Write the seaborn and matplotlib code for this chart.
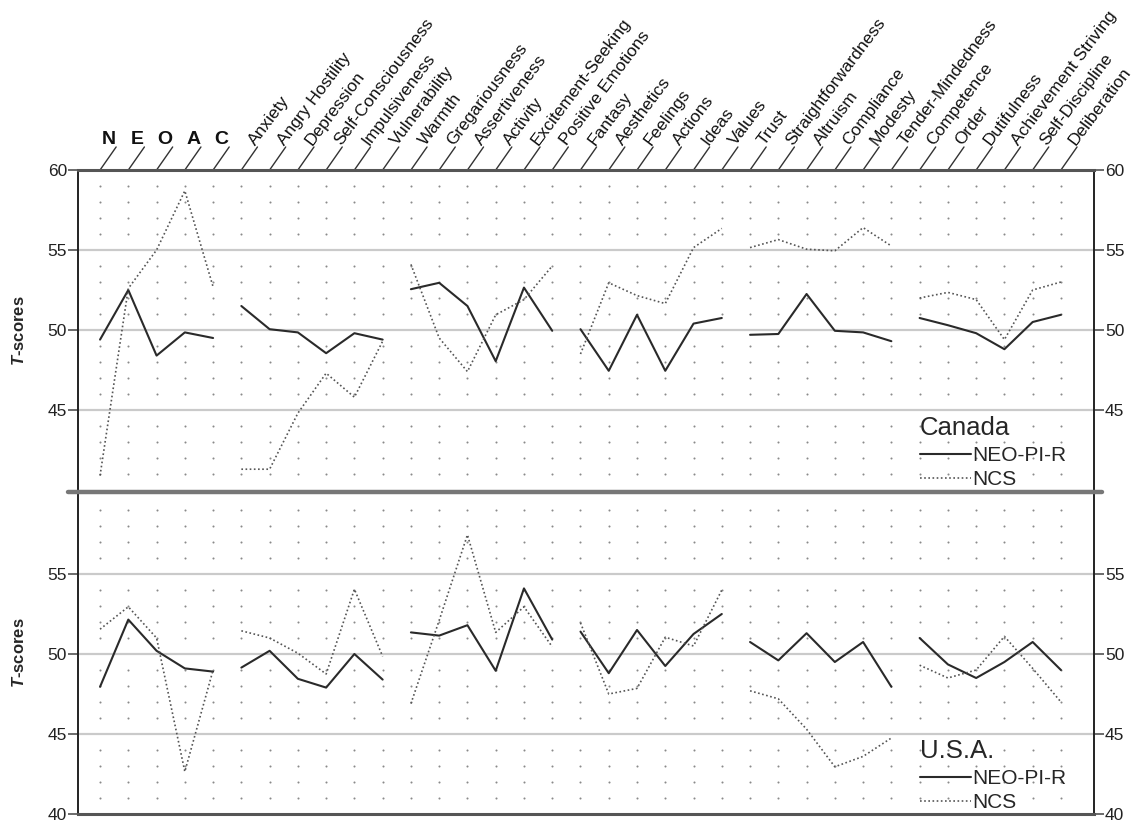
import numpy as np
import pandas as pd
import matplotlib.pyplot as plt
import seaborn as sns
from matplotlib.lines import Line2D

# Labels
domains = ["N", "E", "O", "A", "C"]
facets = [
    "Anxiety", "Angry Hostility", "Depression", "Self-Consciousness", "Impulsiveness", "Vulnerability",
    "Warmth", "Gregariousness", "Assertiveness", "Activity", "Excitement-Seeking", "Positive Emotions",
    "Fantasy", "Aesthetics", "Feelings", "Actions", "Ideas", "Values",
    "Trust", "Straightforwardness", "Altruism", "Compliance", "Modesty", "Tender-Mindedness",
    "Competence", "Order", "Dutifulness", "Achievement Striving", "Self-Discipline", "Deliberation",
]
# which line segment each scale belongs to (domains, then the five facet groups)
blocks = [0] * 5 + [1] * 6 + [2] * 6 + [3] * 6 + [4] * 6 + [5] * 6

# T-scores
canada_neo = [49.4, 52.5, 48.4, 49.85, 49.5,
              51.5, 50.05, 49.85, 48.55, 49.8, 49.4,
              52.55, 52.95, 51.5, 48.05, 52.65, 49.95,
              50.05, 47.45, 50.95, 47.45, 50.4, 50.75,
              49.7, 49.75, 52.25, 49.95, 49.85, 49.3,
              50.75, 50.3, 49.8, 48.8, 50.5, 50.95]
canada_ncs = [40.9, 52.6, 55.0, 58.7, 52.7,
              41.3, 41.3, 44.8, 47.3, 45.8, 49.3,
              54.1, 49.5, 47.4, 50.95, 51.9, 54.0,
              48.5, 52.95, 52.15, 51.65, 55.15, 56.35,
              55.15, 55.65, 55.05, 54.95, 56.4, 55.25,
              52.0, 52.35, 51.9, 49.4, 52.5, 53.0]
usa_neo = [47.95, 52.15, 50.2, 49.1, 48.9,
           49.15, 50.2, 48.45, 47.9, 50.0, 48.4,
           51.35, 51.15, 51.8, 48.95, 54.1, 50.9,
           51.4, 48.8, 51.5, 49.25, 51.25, 52.5,
           50.75, 49.6, 51.3, 49.5, 50.75, 47.95,
           51.0, 49.35, 48.5, 49.5, 50.75, 49.0]
usa_ncs = [51.55, 52.95, 51.0, 42.65, 49.0,
           51.45, 51.0, 50.05, 48.75, 54.05, 49.85,
           46.9, 52.1, 57.45, 51.35, 52.95, 50.45,
           51.95, 47.5, 47.85, 51.05, 50.5, 54.0,
           47.7, 47.2, 45.3, 42.95, 43.6, 44.75,
           49.3, 48.5, 49.0, 51.1, 49.1, 47.0]

scales = domains + facets
pos = np.arange(len(scales))

rows = []
for country, inst, vals in [("Canada", "NEO-PI-R", canada_neo), ("Canada", "NCS", canada_ncs),
                            ("U.S.A.", "NEO-PI-R", usa_neo), ("U.S.A.", "NCS", usa_ncs)]:
    for p, b, v in zip(pos, blocks, vals):
        rows.append({"country": country, "instrument": inst, "pos": p, "block": b, "score": v})
df = pd.DataFrame(rows)

sns.set_style("white")
plt.rcParams["font.family"] = ["Liberation Sans", "DejaVu Sans"]
plt.rcParams["mathtext.fontset"] = "custom"
plt.rcParams["mathtext.bfit"] = "Liberation Sans:italic:bold"
plt.rcParams["mathtext.bf"] = "Liberation Sans:bold"

W, H = 1134, 823
fig = plt.figure(figsize=(W / 100, H / 100), dpi=100)
left, width = 78 / W, 1016 / W
ax_ca = fig.add_axes([left, 1 - 492 / H, width, 322 / H])
ax_us = fig.add_axes([left, 1 - 814 / H, width, 322 / H])

styles = {
    "NEO-PI-R": dict(color="#2a2a2a", linewidth=1.5, linestyle="-"),
    "NCS": dict(color="#555555", linewidth=1.2, linestyle=(0, (1, 1.5))),
}

panels = [(ax_ca, "Canada", (39.875, 60), [45, 50, 55, 60], 0.235),
          (ax_us, "U.S.A.", (40, 60.125), [40, 45, 50, 55], 0.232)]

for ax, country, ylim, yt, leg_y in panels:
    # dotted background grid and grey reference lines
    gy = [v for v in range(41, 60) if v % 5]
    gx, gyy = np.meshgrid(pos, gy)
    ax.scatter(gx.ravel(), gyy.ravel(), s=2.2, color="#8a8a8a", linewidths=0, zorder=1)
    for v in (45, 50, 55):
        ax.axhline(v, color="#cacaca", lw=1.6, zorder=1)

    for inst, st in styles.items():
        sub = df[(df["country"] == country) & (df["instrument"] == inst)]
        sns.lineplot(data=sub, x="pos", y="score", units="block", estimator=None,
                     ax=ax, legend=False, zorder=3, **st)

    ax.set_xlim(-0.78, 35.17)
    ax.set_ylim(*ylim)
    ax.set_xticks([])
    ax.set_yticks(yt)
    ax.tick_params(axis="y", direction="out", length=7, width=1.1, color="#444444",
                   left=True, right=True, labelleft=True, labelright=True,
                   labelsize=12.5, pad=1, labelcolor="#222222")
    ax.set_xlabel("")
    ax.set_ylabel(r"$\mathbfit{T}$-scores", fontsize=12, fontweight="bold")
    ax.yaxis.set_label_coords(-51 / 1016, 0.5)
    for s in ("left", "right"):
        ax.spines[s].set_color("#222222")
        ax.spines[s].set_linewidth(1.4)

    leg = ax.legend(handles=[Line2D([], [], **styles["NEO-PI-R"]), Line2D([], [], **styles["NCS"])],
                    labels=["NEO-PI-R", "NCS"], title=country, loc="upper left",
                    bbox_to_anchor=(0.8287, leg_y), frameon=False, fontsize=15,
                    title_fontsize=18.5, handlelength=2.45, handletextpad=0.05,
                    labelspacing=0.25, borderpad=0, borderaxespad=0, alignment="left")
    leg._legend_box.sep = 4

ax_ca.spines["bottom"].set_visible(False)
ax_ca.spines["top"].set_color("#555555")
ax_ca.spines["top"].set_linewidth(2.2)
ax_us.spines["top"].set_visible(False)
ax_us.spines["bottom"].set_color("#555555")
ax_us.spines["bottom"].set_linewidth(2.2)

# separator between the two panels
fig.add_artist(Line2D([68 / W, 1102 / W], [1 - 492 / H] * 2, transform=fig.transFigure,
                      color="#777777", lw=3.2))

# header: slanted ticks, domain letters and facet names
for i, name in enumerate(scales):
    ax_ca.plot([i, i + 0.57], [60, 61.44], color="#333333", lw=1, clip_on=False)
    if i < 5:
        ax_ca.text(i + 0.3, 61.62, name, ha="center", va="baseline",
                   fontsize=14, fontweight="bold", color="#111111")
    else:
        ax_ca.text(i + 0.6, 61.4, name, ha="left", va="bottom", rotation=53,
                   rotation_mode="anchor", fontsize=12.5, color="#111111")

plt.savefig("out.png", dpi=100)
